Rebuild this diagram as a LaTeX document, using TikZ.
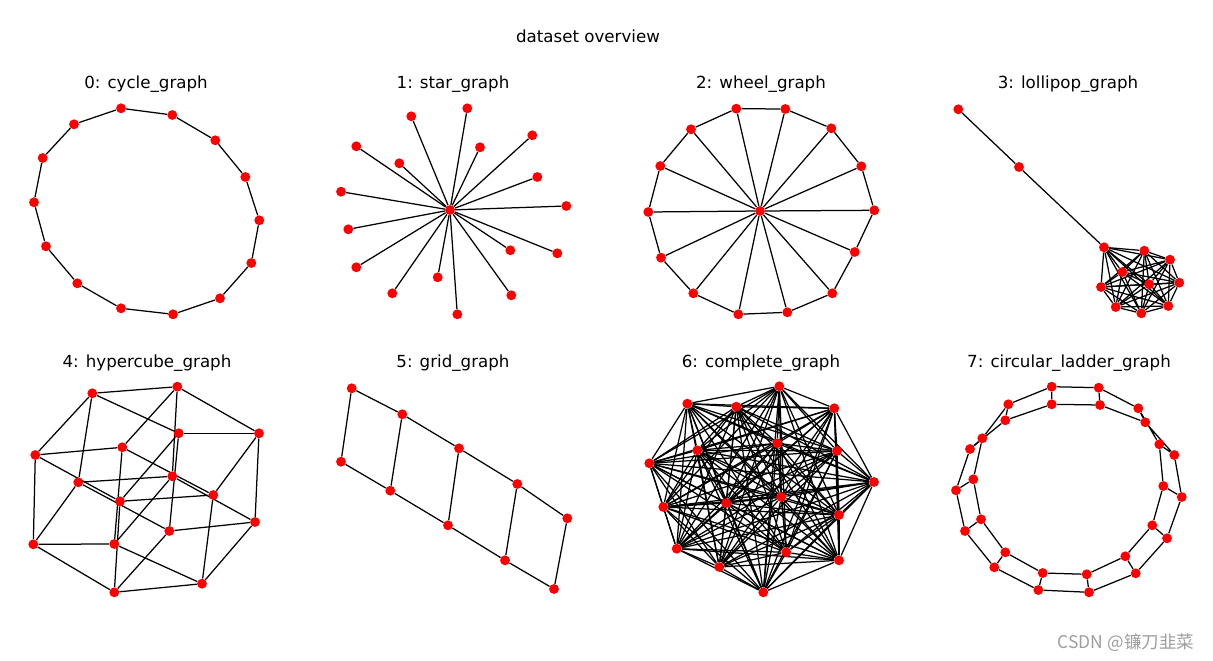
\documentclass[tikz,border=0pt]{standalone}
\usepackage{fontspec}
\setmainfont{DejaVu Sans}
\newfontfamily\cjk{Noto Sans CJK SC}
\usepackage{tikz}
\pgfdeclarelayer{bg}
\pgfsetlayers{bg,main}
\tikzset{
  dot/.style={circle,fill=red,draw=none,inner sep=0pt,minimum size=7.1pt},
  edge/.style={black,line width=0.9pt},
  paneltitle/.style={anchor=base,font=\fontsize{12}{14}\selectfont}
}
\begin{document}
\begin{tikzpicture}[x=0.72pt,y=-0.72pt]
\useasboundingbox (0,0) rectangle (1213,661);
\node[paneltitle] (title) at (588,43) {dataset overview};
% panel titles
\node[paneltitle] (t0) at (146,89) {0: cycle\_graph};
\node[paneltitle] (t1) at (453,89) {1: star\_graph};
\node[paneltitle] (t2) at (761,89) {2: wheel\_graph};
\node[paneltitle] (t3) at (1068,89) {3: lollipop\_graph};
\node[paneltitle] (t4) at (147,367) {4: hypercube\_graph};
\node[paneltitle] (t5) at (453,367) {5: grid\_graph};
\node[paneltitle] (t6) at (761,367) {6: complete\_graph};
\node[paneltitle] (t7) at (1069,367) {7: circular\_ladder\_graph};
% 0: cycle
\foreach \n/\px/\py in {c1/121/108.3,c2/172.3/115,c3/215.3/140.3,c4/245.3/177,
  c5/259.3/220.3,c6/251.3/263,c7/220/298.3,c8/173/314.3,c9/121/308.3,
  c10/77.3/283.3,c11/46/246.3,c12/34/202.3,c13/42.7/158,c14/74/124.3}
  \node[dot] (\n) at (\px,\py) {};
% 1: star
\node[dot] (s0) at (450,210) {};
\foreach \n/\px/\py in {s1/467.3/108.3,s2/411.3/116.3,s3/532.3/135.3,s4/356.3/146.3,
  s5/480/147.3,s6/399.3/163.3,s7/537.3/177,s8/341/191.7,s9/566.3/206,
  s10/348.3/229.3,s11/510.3/250.3,s12/557.3/253.3,s13/356.3/267.3,
  s14/437.7/277.3,s15/392.3/293.3,s16/511.3/295.3,s17/457.3/314.3}
  \node[dot] (\n) at (\px,\py) {};
% 2: wheel
\node[dot] (w0) at (760,211) {};
\foreach \n/\px/\py in {w1/736.3/108.7,w2/785.3/109,w3/831.3/128.3,w4/861.3/166.3,
  w5/874.3/210.3,w6/854.7/252,w7/832.3/293.3,w8/787.3/312.3,w9/738.3/314.3,
  w10/693.3/293.3,w11/661/257.7,w12/648.3/212,w13/660.3/166,w14/691/129.3}
  \node[dot] (\n) at (\px,\py) {};
% 3: lollipop
\node[dot] (p1) at (958.3,109.3) {};
\node[dot] (p2) at (1019,167) {};
\foreach \n/\px/\py in {k1/1104/247.3,k2/1144.3/250.7,k3/1170/259.7,k4/1122.3/272,
  k5/1149.3/284.3,k6/1179.3/282.7,k7/1101/287,k8/1115.7/307,k9/1141.3/313.3,
  k10/1168.3/306}
  \node[dot] (\n) at (\px,\py) {};
% 4: hypercube
\foreach \n/\px/\py in {hA/92.3/393.3,hB/177.3/386.7,hC/178.7/433.3,hD/259/433.3,
  hE/35.3/455,hF/122.3/447.3,hG/78.3/482.3,hH/172.3/476.3,hI/120/501.3,
  hJ/213.3/495,hK/255/522,hL/169.3/531,hM/33.3/544.3,hN/114.3/544,
  hO/114.3/592.3,hP/202/583.7}
  \node[dot] (\n) at (\px,\py) {};
% 5: grid
\foreach \n/\px/\py in {gt1/351.7/388.3,gt2/402.3/414.3,gt3/459/448.3,gt4/517.3/484,
  gt5/567.3/518.3,gb1/341/461.7,gb2/390.3/490.7,gb3/448/525.3,gb4/505/560.3,
  gb5/554/589}
  \node[dot] (\n) at (\px,\py) {};
% 6: complete
\foreach \n/\px/\py in {q1/779.3/386.3,q2/687.3/403.7,q3/736.3/406.7,q4/834.3/408.3,
  q5/777.3/443.3,q6/697.3/450.3,q7/837/451,q8/649.3/463.3,q9/874/482,
  q10/781.3/497,q11/726.3/503,q12/663.3/507,q13/839/515,q14/676.7/548.7,
  q15/786.3/552.3,q16/719.3/567,q17/839/560.3,q18/763.3/592.3}
  \node[dot] (\n) at (\px,\py) {};
% 7: circular ladder
\foreach \n/\px/\py in {xa1/1051.7/386.7,xa2/1098.7/387.7,xa3/1138.3/408.3,
  xa4/1159.3/444.3,xa5/1163.3/486,xa6/1152.3/525.3,xa7/1125.3/556.3,
  xa8/1086.7/574.3,xa9/1042.7/573,xa10/1005.3/552.3,xa11/981/519.3,
  xa12/973.3/479.3,xa13/982.3/438.3,xa14/1008.3/404.3}
  \node[dot] (\n) at (\px,\py) {};
\foreach \n/\px/\py in {xb1/1051.7/404.3,xb2/1100/405,xb3/1145.3/422.3,
  xb4/1174.3/455,xb5/1181.7/497,xb6/1167/538.3,xb7/1135.7/573.3,
  xb8/1089/592.3,xb9/1038.3/590,xb10/994.3/567.3,xb11/965/531,
  xb12/956/490.3,xb13/970/449,xb14/1005.3/420.3}
  \node[dot] (\n) at (\px,\py) {};

\begin{pgfonlayer}{bg}
\foreach \i [remember=\i as \j (initially 14)] in {1,...,14}
  \draw[edge] (c\j) -- (c\i);
\foreach \i in {1,...,17} \draw[edge] (s0) -- (s\i);
\foreach \i [remember=\i as \j (initially 14)] in {1,...,14}
  \draw[edge] (w\j) -- (w\i) (w0) -- (w\i);
\draw[edge] (p1) -- (p2) -- (k1);
\foreach \i in {1,...,9} {
  \pgfmathtruncatemacro\nxt{\i+1}
  \foreach \j in {\nxt,...,10} \draw[edge] (k\i) -- (k\j);
}
\foreach \a/\b in {A/B,A/E,A/G,A/C,B/D,B/F,B/H,C/D,C/L,C/I,D/K,D/J,E/F,E/M,E/I,
  F/J,F/N,G/M,G/L,G/H,H/N,H/K,I/O,I/J,J/P,K/L,K/P,L/O,M/O,M/N,N/P,O/P}
  \draw[edge] (h\a) -- (h\b);
\foreach \i in {1,...,5} \draw[edge] (gt\i) -- (gb\i);
\draw[edge] (gt1) -- (gt2) -- (gt3) -- (gt4) -- (gt5);
\draw[edge] (gb1) -- (gb2) -- (gb3) -- (gb4) -- (gb5);
\foreach \i in {1,...,17} {
  \pgfmathtruncatemacro\nxt{\i+1}
  \foreach \j in {\nxt,...,18} \draw[edge] (q\i) -- (q\j);
}
\foreach \i [remember=\i as \j (initially 14)] in {1,...,14}
  \draw[edge] (xa\j) -- (xa\i) (xb\j) -- (xb\i) (xa\i) -- (xb\i);
\end{pgfonlayer}

\node[anchor=east,text=black!38,font=\cjk\fontsize{12.6}{14}\selectfont] (mark) at (1199,643) {CSDN @镰刀韭菜};
\end{tikzpicture}
\end{document}
